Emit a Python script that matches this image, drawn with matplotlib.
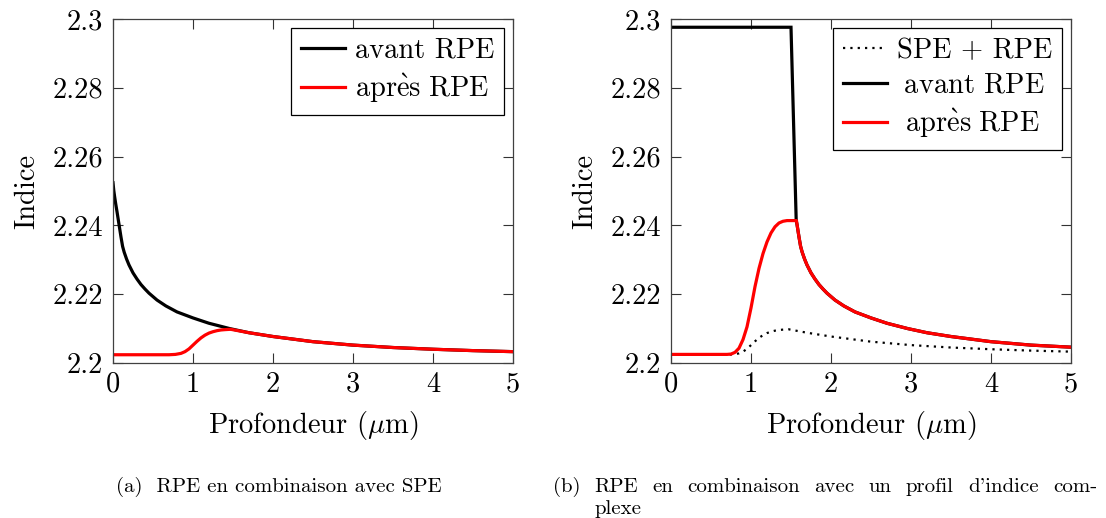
import matplotlib
matplotlib.use("Agg")
import matplotlib.pyplot as plt
from matplotlib.ticker import FixedLocator, FixedFormatter

plt.rcParams.update({
    "font.family": ["cmr10", "DejaVu Serif"],
    "mathtext.fontset": "cm",
    "axes.formatter.use_mathtext": True,
    "axes.unicode_minus": False,
    "font.size": 20.5,
})

# ---------------- data ----------------
x_ticks = [0, 1, 2, 3, 4, 5]
x_ticklabels = ["0", "1", "2", "3", "4", "5"]
y_ticks = [2.2, 2.22, 2.24, 2.26, 2.28, 2.3]
y_ticklabels = ["2.2", "2.22", "2.24", "2.26", "2.28", "2.3"]

# (a) SPE profile before RPE
avant_a_x = [0, 0.01, 0.02, 0.035, 0.05, 0.075, 0.1, 0.12, 0.14, 0.17, 0.2,
             0.25, 0.3, 0.35, 0.4, 0.45, 0.55, 0.66, 0.8, 1.0, 1.2, 1.46,
             1.7, 2.0, 2.5, 3.0, 3.5, 4.0, 4.5, 5.0]
avant_a_y = [2.2524, 2.2501, 2.2484, 2.2461, 2.2440, 2.2403, 2.2366, 2.2339,
             2.2322, 2.2302, 2.2285, 2.2262, 2.2244, 2.2228, 2.2215, 2.2203,
             2.2183, 2.2166, 2.21485, 2.2131, 2.21155, 2.2100, 2.2088, 2.2077,
             2.2062, 2.2052, 2.2045, 2.2040, 2.2036, 2.2033]

# SPE + RPE (after RPE in panel a, dotted in panel b)
spe_rpe_x = [0, 0.7, 0.78, 0.85, 0.9, 0.95, 1.0, 1.05, 1.1, 1.15, 1.2, 1.25,
             1.3, 1.35, 1.4, 1.47, 1.7, 2.0, 2.5, 3.0, 3.5, 4.0, 4.5, 5.0]
spe_rpe_y = [2.2024, 2.2024, 2.2025, 2.2028, 2.2033, 2.2041, 2.2052, 2.2063,
             2.2073, 2.2081, 2.2087, 2.2091, 2.2094, 2.2096, 2.2097, 2.2098,
             2.2088, 2.2077, 2.2062, 2.2052, 2.2045, 2.2040, 2.2036, 2.2033]

# (b) complex profile before RPE
avant_b_x = [0, 1.5, 1.565, 1.575, 1.6, 1.62, 1.64, 1.67, 1.7, 1.75, 1.8,
             1.85, 1.9, 1.95, 2.05, 2.16, 2.3, 2.5, 2.7, 2.96, 3.2, 3.5, 4.0,
             4.5, 5.0]
avant_b_y = [2.2976, 2.2976, 2.2414, 2.2403, 2.2366, 2.2339, 2.2322, 2.2302,
             2.2285, 2.2262, 2.2244, 2.2228, 2.2215, 2.2203, 2.2183, 2.2166,
             2.21485, 2.2131, 2.21155, 2.2100, 2.2088, 2.2077, 2.2062, 2.2052,
             2.2046]

# (b) complex profile after RPE
apres_b_x = [0, 0.7, 0.75, 0.8, 0.85, 0.9, 0.95, 1.0, 1.05, 1.1, 1.15, 1.2,
             1.25, 1.3, 1.35, 1.4, 1.45, 1.568, 1.575, 1.6, 1.62, 1.64, 1.67,
             1.7, 1.75, 1.8, 1.85, 1.9, 1.95, 2.05, 2.16, 2.3, 2.5, 2.7, 2.96,
             3.2, 3.5, 4.0, 4.5, 5.0]
apres_b_y = [2.2025, 2.2025, 2.2026, 2.2031, 2.2043, 2.2068, 2.2105, 2.2160,
             2.2222, 2.2275, 2.2318, 2.2352, 2.2378, 2.2396, 2.2407, 2.2412,
             2.2414, 2.2414, 2.2403, 2.2366, 2.2339, 2.2322, 2.2302, 2.2285,
             2.2262, 2.2244, 2.2228, 2.2215, 2.2203, 2.2183, 2.2166, 2.21485,
             2.2131, 2.21155, 2.2100, 2.2088, 2.2077, 2.2062, 2.2052, 2.2046]

label_spe = "SPE + RPE"
label_avant = "avant RPE"
label_apres = r"$\mathrm{apr\grave{e}s\ RPE}$"
xlabel = r"Profondeur ($\mu$m)"
ylabel = "Indice"
caption_a = "(a)  RPE en combinaison avec SPE"
caption_b_line1 = ["(b)", "RPE", "en", "combinaison", "avec", "un", "profil",
                   "d'indice", "com-"]
caption_b_line2 = "plexe"

# ---------------- figure ----------------
W, H = 1106, 518
fig = plt.figure(figsize=(W / 100, H / 100), dpi=100)
axL = fig.add_axes([113 / W, 1 - 363 / H, 400 / W, 344 / H])
axR = fig.add_axes([671 / W, 1 - 363 / H, 400 / W, 344 / H])

LW = 2.3
RED = "#ff0000"

axL.plot(avant_a_x, avant_a_y, color="black", lw=LW, label=label_avant,
         solid_joinstyle="round")
axL.plot(spe_rpe_x, spe_rpe_y, color=RED, lw=LW, label=label_apres,
         solid_joinstyle="round")

axR.plot(spe_rpe_x, spe_rpe_y, color="black", lw=1.6, ls=(0, (1, 2.3)),
         dash_capstyle="butt", label=label_spe)
axR.plot(avant_b_x, avant_b_y, color="black", lw=LW, label=r"$\;$" + label_avant,
         solid_joinstyle="miter")
axR.plot(apres_b_x, apres_b_y, color=RED, lw=LW,
         label=r"$\mathrm{\ apr\grave{e}s\ RPE}$", solid_joinstyle="round")

for ax in (axL, axR):
    ax.set_xlim(0, 5)
    ax.set_ylim(2.2, 2.3)
    ax.xaxis.set_major_locator(FixedLocator(x_ticks))
    ax.xaxis.set_major_formatter(FixedFormatter(x_ticklabels))
    ax.yaxis.set_major_locator(FixedLocator(y_ticks))
    ax.yaxis.set_major_formatter(FixedFormatter(y_ticklabels))
    ax.tick_params(direction="in", length=7.5, width=0.8, color="0.2",
                   top=True, right=True, labelsize=20.5)
    ax.tick_params(axis="x", pad=6)
    ax.tick_params(axis="y", pad=7)
    for s in ax.spines.values():
        s.set_linewidth(0.9)
        s.set_color("0.25")
    ax.set_xlabel(xlabel, fontsize=20.5)
    ax.set_ylabel(ylabel, fontsize=20.5)
    ax.xaxis.set_label_coords(0.5, -0.135)
    ax.yaxis.set_label_coords(-0.183, 0.5)

leg_kw = dict(loc="upper right", fontsize=20.5, frameon=True, fancybox=False,
              edgecolor="black", framealpha=1, borderaxespad=0.3,
              borderpad=0.35, labelspacing=0.3, handlelength=1.55,
              handletextpad=0.35)
for ax in (axL, axR):
    leg = ax.legend(**leg_kw)
    leg.get_frame().set_linewidth(0.9)

# ---------------- captions ----------------
CAP = 15
fig.text(279 / W, 1 - 487 / H, caption_a, ha="center", va="center", fontsize=CAP)

fig.canvas.draw()
renderer = fig.canvas.get_renderer()
x_left, x_right = 553, 1097
y1 = 1 - 487 / H
words = [fig.text(0, y1, w, ha="left", va="center", fontsize=CAP)
         for w in caption_b_line1]
widths = [t.get_window_extent(renderer).width for t in words]
gap = (x_right - x_left - sum(widths)) / (len(words) - 1)
xpos = x_left
word_x = []
for t, w in zip(words, widths):
    t.set_x(xpos / W)
    word_x.append(xpos)
    xpos += w + gap
fig.text(word_x[1] / W, 1 - 509 / H, caption_b_line2, ha="left", va="center",
         fontsize=CAP)

fig.savefig("out.png", dpi=100)
